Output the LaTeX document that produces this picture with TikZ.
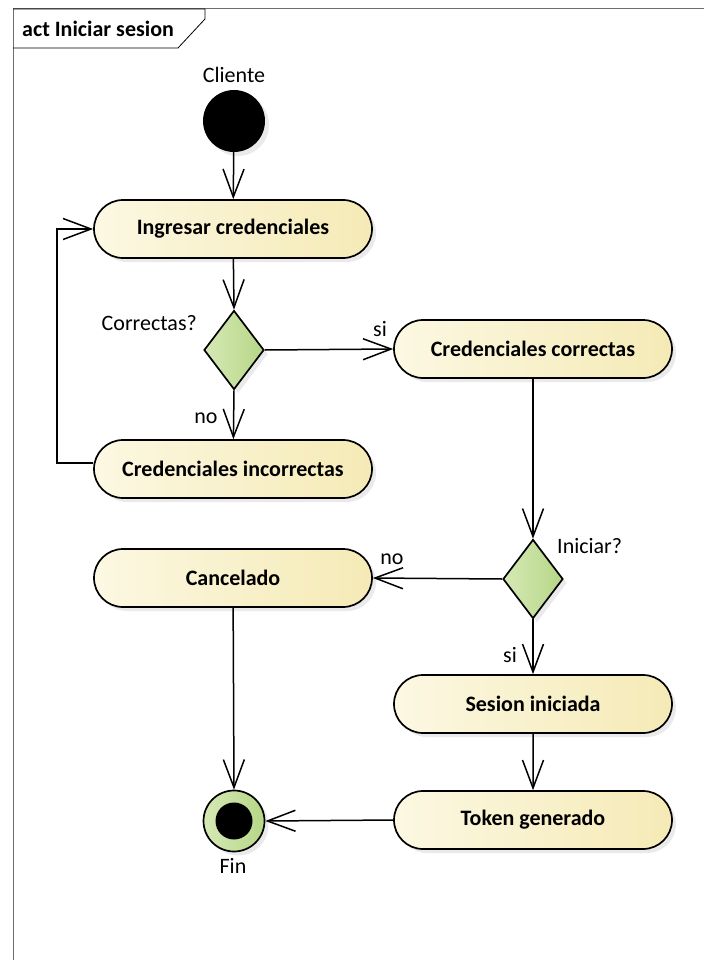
\documentclass[tikz,border=0pt]{standalone}
\usepackage{fontspec}
\setmainfont{Carlito}
\usetikzlibrary{shapes.misc,shapes.geometric,arrows.meta,shadows}

\definecolor{actL}{HTML}{FCF8E2}
\definecolor{actR}{HTML}{F5EAB6}
\definecolor{decL}{HTML}{D6E9B5}
\definecolor{decR}{HTML}{B6D687}
\definecolor{frameC}{HTML}{6E6E6E}

\begin{document}
\begin{tikzpicture}[x=1pt,y=-1pt,
  font=\fontsize{22}{26}\selectfont,
  shade/.style={drop shadow={shadow xshift=4pt,shadow yshift=-4pt,fill=black!16}},
  actbox/.style={rounded rectangle, draw, line width=1.7pt,
    minimum width=278pt, minimum height=58pt, inner sep=0pt,
    left color=actL, right color=actR, shade,
    font=\fontsize{22}{26}\selectfont\bfseries},
  decision/.style={diamond, draw, line width=1.7pt, inner sep=0pt,
    minimum width=60pt, minimum height=79pt,
    left color=decL, right color=decR, shade},
  startnode/.style={circle, fill=black, minimum size=62pt, inner sep=0pt, shade},
  endnode/.style={circle, draw, line width=1.7pt, minimum size=61pt, inner sep=0pt,
    left color=decL, right color=decR, shade,
    path picture={\fill[black] (path picture bounding box.center) circle (18.5pt);}},
  lbl/.style={inner sep=0pt, text=black},
  flow/.style={line width=1.5pt, -{Straight Barb[length=28pt,width=21pt]}}
]
\useasboundingbox (0,0) rectangle (704,960);

% diagram frame with its name tab
\draw[frameC, line width=1pt] (13,960) -- (13,9) -- (704,9);
\draw[line width=0.8pt] (13,9) -- (205,9) -- (205,19) -- (178,48) -- (13,48);
\node[lbl, anchor=west, font=\fontsize{22}{26}\selectfont\bfseries] (title) at (22,29) {act Iniciar sesion};

% nodes
\node[startnode] (ini) at (234,121) {};
\node[lbl] (cliente) at (234,75) {Cliente};
\node[actbox] (ingresar) at (233,229) {Ingresar credenciales};
\node[decision] (d1) at (234,350) {};
\node[lbl, anchor=east] (qcorr) at (197,323) {Correctas?};
\node[actbox] (correctas) at (533,349) {Credenciales correctas};
\node[actbox] (incorr) at (233,469) {Credenciales incorrectas};
\node[decision] (d2) at (533,579) {};
\node[lbl, anchor=west] (qini) at (557,546) {Iniciar?};
\node[actbox] (cancel) at (233,578) {Cancelado};
\node[actbox] (sesion) at (533,704) {Sesion iniciada};
\node[actbox] (token) at (533,820) {Token generado};
\node[endnode] (fin) at (234,821) {};
\node[lbl] (finlbl) at (233,866) {Fin};

% guard labels
\node[lbl] (g1) at (380,329) {si};
\node[lbl] (g2) at (206,418) {no};
\node[lbl] (g3) at (392,559) {no};
\node[lbl] (g4) at (510,655) {si};

% loop corners
\coordinate (loopB) at (57,463);
\coordinate (loopT) at (57,229);

% connectors
\draw[flow] (ini) -- (ingresar);
\draw[flow] (ingresar) -- (d1.north);
\draw[flow] (d1.east) -- (correctas.west);
\draw[flow] (d1.south) -- (incorr);
\draw[flow] ([yshift=6pt]incorr.west) -- (loopB) -- (loopT) -- (ingresar.west);
\draw[flow] (correctas.south) -- (d2.north);
\draw[flow] (d2.west) -- (cancel.east);
\draw[flow] (d2.south) -- (sesion.north);
\draw[flow] (sesion) -- (token);
\draw[flow] (token.west) -- (fin.east);
\draw[flow] (cancel) -- (fin.north);
\end{tikzpicture}
\end{document}
